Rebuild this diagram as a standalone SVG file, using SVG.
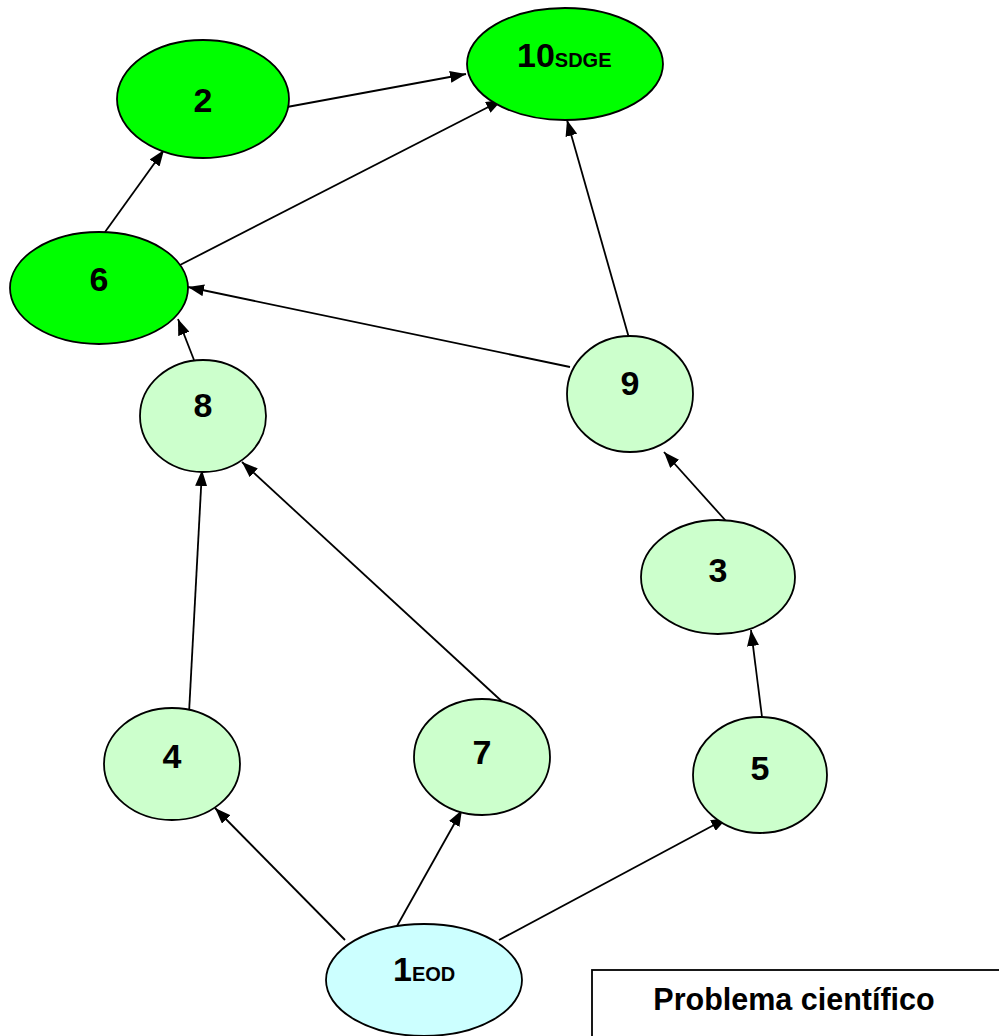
<svg xmlns="http://www.w3.org/2000/svg" width="999" height="1036" viewBox="0 0 999 1036">
  <defs>
    <marker id="arrow" viewBox="0 0 16 12" refX="16" refY="6" markerWidth="16" markerHeight="12" markerUnits="userSpaceOnUse" orient="auto">
      <path d="M0,0 L16,6 L0,12 Z" fill="#000"/>
    </marker>
  </defs>
  <style>
    .node { stroke: #000; stroke-width: 1.8; }
    .dark { fill: #00FF00; }
    .light { fill: #CCFFCC; }
    .start { fill: #CCFFFF; }
    .lbl { font-family: "Liberation Sans", Arial, sans-serif; font-weight: bold; font-size: 34px; fill: #000; }
    .sub { font-size: 20px; }
    .edge { stroke: #000; stroke-width: 1.8; fill: none; marker-end: url(#arrow); }
  </style>
  <rect width="999" height="1036" fill="#fff"/>

  <g id="connectors">
    <line class="edge" x1="287" y1="107" x2="466" y2="74"/>
    <line class="edge" x1="180" y1="265" x2="502" y2="100"/>
    <line class="edge" x1="105" y1="232" x2="164" y2="150"/>
    <line class="edge" x1="570" y1="367" x2="188" y2="287"/>
    <line class="edge" x1="629" y1="338" x2="567" y2="120"/>
    <line class="edge" x1="194" y1="360" x2="178" y2="319"/>
    <line class="edge" x1="189" y1="713" x2="202" y2="470"/>
    <line class="edge" x1="508" y1="707" x2="242" y2="462"/>
    <line class="edge" x1="726" y1="521" x2="664" y2="452"/>
    <line class="edge" x1="762" y1="717" x2="751" y2="630"/>
    <line class="edge" x1="345" y1="940" x2="215" y2="808"/>
    <line class="edge" x1="397" y1="926" x2="462" y2="810"/>
    <line class="edge" x1="499" y1="940" x2="727" y2="818"/>
  </g>

  <g id="node10">
    <ellipse class="node dark" cx="565" cy="64" rx="98" ry="56"/>
    <text class="lbl" x="517" y="67">10<tspan class="sub">SDGE</tspan></text>
  </g>
  <g id="node2">
    <ellipse class="node dark" cx="203" cy="99" rx="86" ry="59"/>
    <text class="lbl" x="203" y="112" text-anchor="middle">2</text>
  </g>
  <g id="node6">
    <ellipse class="node dark" cx="99" cy="288" rx="89" ry="56"/>
    <text class="lbl" x="99" y="291" text-anchor="middle">6</text>
  </g>
  <g id="node8">
    <ellipse class="node light" cx="203" cy="416" rx="63" ry="56"/>
    <text class="lbl" x="203" y="417" text-anchor="middle">8</text>
  </g>
  <g id="node9">
    <ellipse class="node light" cx="630" cy="394" rx="63" ry="58"/>
    <text class="lbl" x="630" y="395" text-anchor="middle">9</text>
  </g>
  <g id="node3">
    <ellipse class="node light" cx="718" cy="577" rx="77" ry="57"/>
    <text class="lbl" x="718" y="582" text-anchor="middle">3</text>
  </g>
  <g id="node4">
    <ellipse class="node light" cx="172" cy="764" rx="68" ry="56"/>
    <text class="lbl" x="172" y="768" text-anchor="middle">4</text>
  </g>
  <g id="node7">
    <ellipse class="node light" cx="482" cy="757" rx="68" ry="58"/>
    <text class="lbl" x="482" y="764" text-anchor="middle">7</text>
  </g>
  <g id="node5">
    <ellipse class="node light" cx="760" cy="775" rx="67" ry="58"/>
    <text class="lbl" x="760" y="780" text-anchor="middle">5</text>
  </g>
  <g id="node1">
    <ellipse class="node start" cx="424" cy="980" rx="98" ry="56"/>
    <text class="lbl" x="393" y="981">1<tspan class="sub">EOD</tspan></text>
  </g>

  <g id="problema">
    <rect x="592" y="970" width="420" height="80" fill="#fff" stroke="#000" stroke-width="1.8"/>
    <text class="lbl" x="794" y="1010" text-anchor="middle" style="font-size:30.5px">Problema científico</text>
  </g>
</svg>
